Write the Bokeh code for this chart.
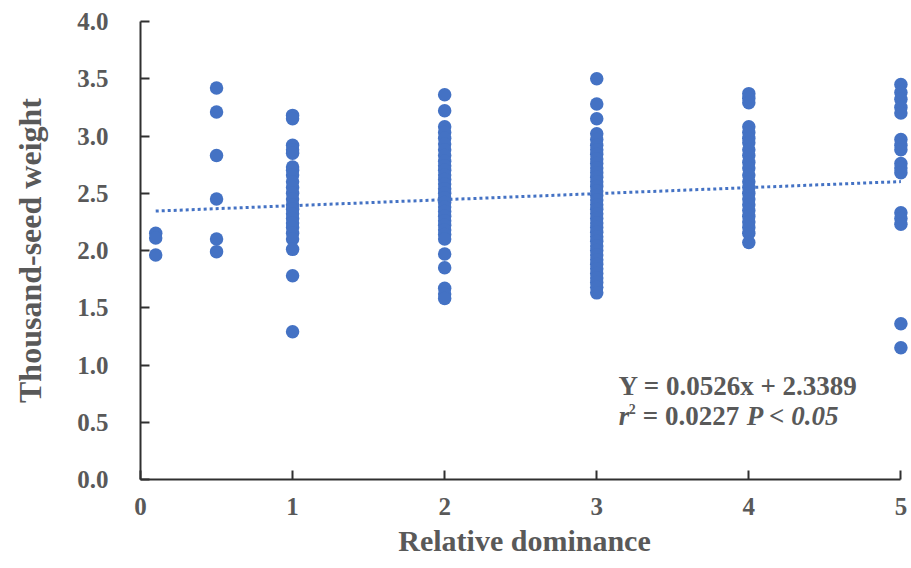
from bokeh.plotting import figure
from bokeh.models import Range1d, FixedTicker, NumeralTickFormatter, Label, ColumnDataSource
from bokeh.embed import file_html
from bokeh.resources import INLINE

# ---- data ----
x_levels = [0.1, 0.5, 1, 2, 3, 4, 5]
y_at_0_1 = [2.15, 2.11, 1.96]
y_at_0_5 = [3.42, 3.21, 2.83, 2.45, 2.10, 1.99]
y_at_1 = [3.18, 3.15, 2.92, 2.88, 2.85, 2.73, 2.70, 2.66, 2.60, 2.55, 2.50, 2.45,
          2.40, 2.36, 2.32, 2.28, 2.24, 2.20, 2.15, 2.10, 2.01, 1.78, 1.29]
y_at_2 = [3.36, 3.22, 3.08, 3.03, 2.98, 2.93, 2.88, 2.83, 2.78, 2.74, 2.70, 2.66,
          2.62, 2.58, 2.54, 2.50, 2.46, 2.42, 2.38, 2.34, 2.30, 2.26, 2.22, 2.18,
          2.14, 2.10, 1.97, 1.85, 1.67, 1.62, 1.58]
y_at_3 = [3.50, 3.28, 3.15, 3.02, 2.97, 2.92, 2.88, 2.84, 2.80, 2.76, 2.72, 2.68,
          2.64, 2.60, 2.56, 2.52, 2.48, 2.44, 2.40, 2.36, 2.32, 2.28, 2.24, 2.20,
          2.16, 2.12, 2.08, 2.04, 2.00, 1.96, 1.92, 1.88, 1.84, 1.80, 1.76, 1.72,
          1.68, 1.63]
y_at_4 = [3.37, 3.33, 3.29, 3.08, 3.03, 2.98, 2.94, 2.88, 2.83, 2.77, 2.72, 2.66,
          2.60, 2.55, 2.50, 2.45, 2.40, 2.35, 2.30, 2.25, 2.20, 2.15, 2.07]
y_at_5 = [3.45, 3.38, 3.32, 3.25, 3.20, 2.97, 2.92, 2.88, 2.76, 2.72, 2.68,
          2.33, 2.28, 2.23, 1.36, 1.15]

slope = 0.0526
intercept = 2.3389
trend_x = [0.1, 5.0]

x_ticks = [0, 1, 2, 3, 4, 5]
y_ticks = [0, 0.5, 1.0, 1.5, 2.0, 2.5, 3.0, 3.5, 4.0]

x_title = "Relative dominance"
y_title = "Thousand-seed weight"
eq_text = "Y = 0.0526x + 2.3389"

# ---- build ----
groups = [y_at_0_1, y_at_0_5, y_at_1, y_at_2, y_at_3, y_at_4, y_at_5]
xs, ys = [], []
for xv, g in zip(x_levels, groups):
    xs += [xv] * len(g)
    ys += g
src = ColumnDataSource(dict(x=xs, y=ys))

BLUE = "#4472C4"
GRAY = "#595959"
FONT = "Liberation Serif"

p = figure(width=911, height=568, output_backend="svg", toolbar_location=None,
           x_range=Range1d(0, 5.05), y_range=Range1d(0, 4),
           min_border_left=140, min_border_right=3, min_border_top=21, min_border_bottom=89)
p.outline_line_color = None
p.xgrid.grid_line_color = None
p.ygrid.grid_line_color = None
p.background_fill_color = "white"
p.border_fill_color = "white"

trend_y = [slope * v + intercept for v in trend_x]
p.line(trend_x, trend_y, line_color=BLUE, line_width=3, line_dash="3 3")
p.scatter("x", "y", source=src, size=13.5, fill_color=BLUE, line_color=None)

for ax in (p.xaxis[0], p.yaxis[0]):
    ax.axis_line_color = "#303030"
    ax.axis_line_width = 2
    ax.major_tick_line_color = "#303030"
    ax.major_tick_line_width = 2
    ax.major_tick_in = 9
    ax.major_tick_out = 0
    ax.minor_tick_line_color = None
    ax.major_label_text_font = FONT
    ax.major_label_text_font_style = "bold"
    ax.major_label_text_color = GRAY
    ax.major_label_text_font_size = "25px"
    ax.axis_label_text_font = FONT
    ax.axis_label_text_font_style = "bold"
    ax.axis_label_text_color = GRAY

p.xaxis.bounds = (0, 5)
p.xaxis.ticker = FixedTicker(ticks=x_ticks)
p.yaxis.ticker = FixedTicker(ticks=y_ticks)
p.yaxis.formatter = NumeralTickFormatter(format="0.0")
p.xaxis.major_label_standoff = 18
p.yaxis.major_label_standoff = 32
p.xaxis.axis_label = x_title
p.yaxis.axis_label = y_title
p.xaxis.axis_label_text_font_size = "30px"
p.yaxis.axis_label_text_font_size = "32px"
p.xaxis.axis_label_standoff = 6
p.yaxis.axis_label_standoff = 26

# ---- equation annotation ----
common = dict(text_font=FONT, text_font_style="bold", text_color=GRAY, text_baseline="alphabetic")
p.add_layout(Label(x=3.93, y=0.82, text=eq_text, text_align="center",
                   text_font_size="27px", **common))
ax0, ay0 = 3.145, 0.558
p.add_layout(Label(x=ax0, y=ay0, text="r", text_align="left", text_font_size="27px",
                   text_font=FONT, text_font_style="bold italic", text_color=GRAY,
                   text_baseline="alphabetic"))
p.add_layout(Label(x=ax0, y=ay0, x_offset=10, y_offset=7, text="2", text_align="left",
                   text_font_size="14px", **common))
p.add_layout(Label(x=ax0, y=ay0, x_offset=24, text="= 0.0227", text_align="left",
                   text_font_size="27px", **common))
p.add_layout(Label(x=ax0, y=ay0, x_offset=128, text="P < 0.05", text_align="left",
                   text_font_size="27px", text_font=FONT, text_font_style="bold italic",
                   text_color=GRAY, text_baseline="alphabetic"))

open("out.html", "w").write(file_html(p, INLINE))
